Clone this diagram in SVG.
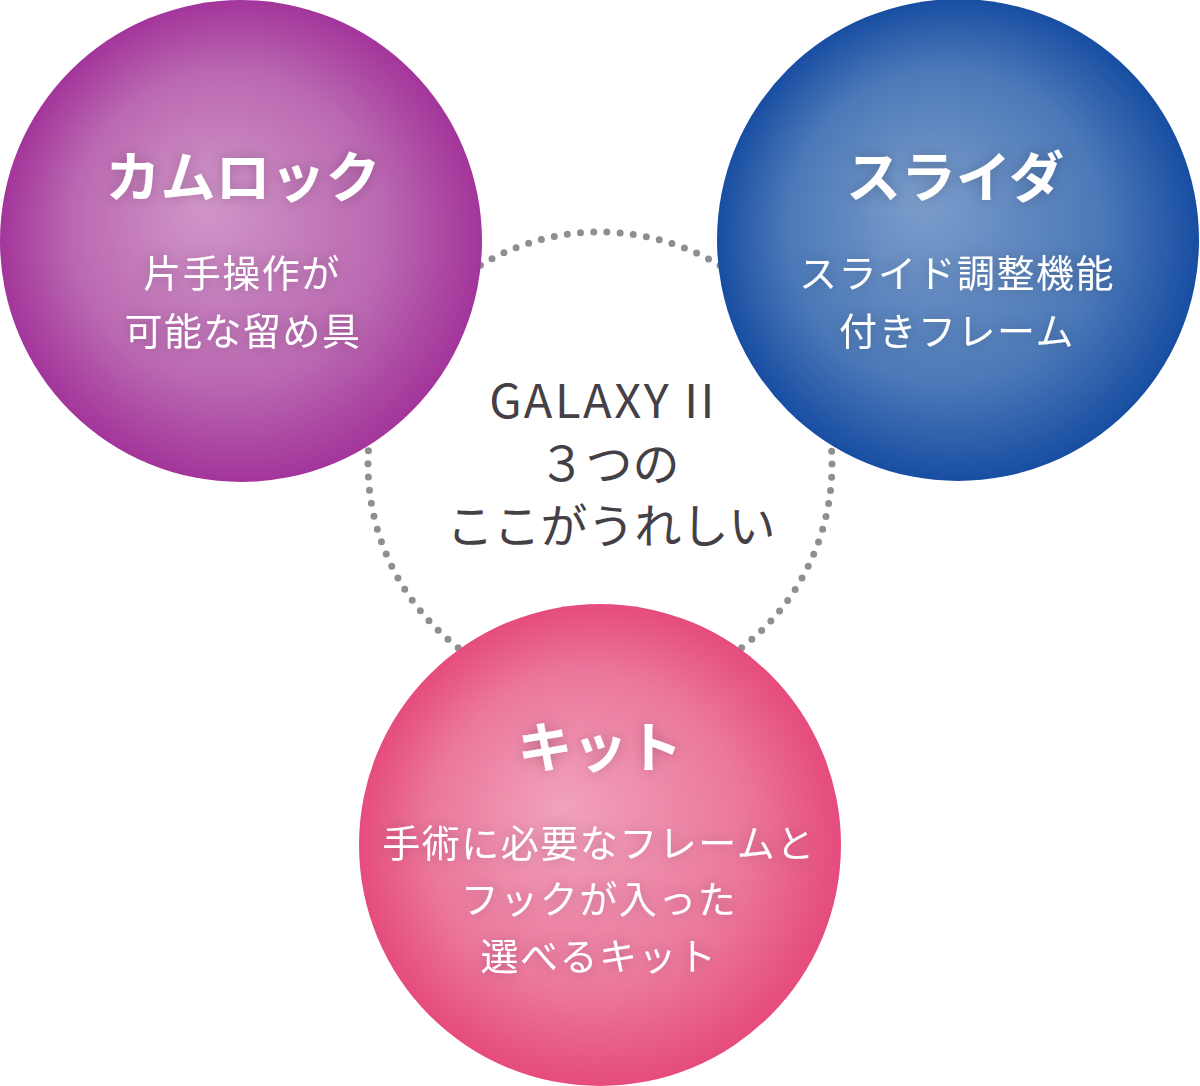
<svg xmlns="http://www.w3.org/2000/svg" width="1200" height="1086" viewBox="0 0 1200 1086">
<defs>
<radialGradient id="gPurple" cx="0.5" cy="0.5" r="0.5" fx="0.42" fy="0.42">
<stop offset="0" stop-color="#d196c9"/>
<stop offset="0.65" stop-color="#ba68b1"/>
<stop offset="1" stop-color="#a3359a"/>
</radialGradient>
<radialGradient id="gBlue" cx="0.5" cy="0.5" r="0.5" fx="0.42" fy="0.42">
<stop offset="0" stop-color="#7b9dcb"/>
<stop offset="0.65" stop-color="#4c79b8"/>
<stop offset="1" stop-color="#184ea2"/>
</radialGradient>
<radialGradient id="gPink" cx="0.5" cy="0.5" r="0.5" fx="0.42" fy="0.42">
<stop offset="0" stop-color="#f2a2bb"/>
<stop offset="0.65" stop-color="#eb789c"/>
<stop offset="1" stop-color="#e54c7c"/>
</radialGradient>
<filter id="glow" x="-20%" y="-40%" width="140%" height="180%">
<feGaussianBlur in="SourceAlpha" stdDeviation="7" result="b"/>
<feFlood flood-color="#000" flood-opacity="0.22"/>
<feComposite in2="b" operator="in" result="s"/>
<feMerge><feMergeNode in="s"/><feMergeNode in="SourceGraphic"/></feMerge>
</filter>
</defs>
<style>
.t{font-family:"Noto Sans CJK JP","Noto Sans",sans-serif;fill:#fff;text-anchor:middle}
.h{font-size:55px;font-weight:700}
.s{font-size:38px;font-weight:400;letter-spacing:1.5px}
.c{font-family:"Noto Sans CJK JP","Noto Sans",sans-serif;fill:#454045;text-anchor:middle;font-size:47px}
</style>
<g id="connectors">
<circle cx="600" cy="464" r="232" fill="none" stroke="#8f8f8f" stroke-width="7" stroke-linecap="round" stroke-dasharray="0 13.25"/>
</g>
<g id="center">
<text class="c" x="603" y="418" style="letter-spacing:2.5px">GALAXY II</text>
<text class="c" x="609" y="481">３つの</text>
<text class="c" x="611" y="543">ここがうれしい</text>
</g>
<g id="camlock">
<circle cx="241" cy="241" r="241" fill="url(#gPurple)"/>
<g filter="url(#glow)">
<text class="t h" x="243" y="197">カムロック</text>
<text class="t s" x="242" y="287">片手操作が</text>
<text class="t s" x="243" y="345">可能な留め具</text>
</g>
</g>
<g id="slider">
<circle cx="958" cy="240" r="241" fill="url(#gBlue)"/>
<g filter="url(#glow)">
<text class="t h" x="955" y="197">スライダ</text>
<text class="t s" x="957" y="287">スライド調整機能</text>
<text class="t s" x="957" y="345">付きフレーム</text>
</g>
</g>
<g id="kit">
<circle cx="600" cy="845" r="241" fill="url(#gPink)"/>
<g filter="url(#glow)">
<text class="t h" x="600" y="767">キット</text>
<text class="t s" x="599" y="857">手術に必要なフレームと</text>
<text class="t s" x="599" y="913">フックが入った</text>
<text class="t s" x="599" y="970">選べるキット</text>
</g>
</g>
</svg>
